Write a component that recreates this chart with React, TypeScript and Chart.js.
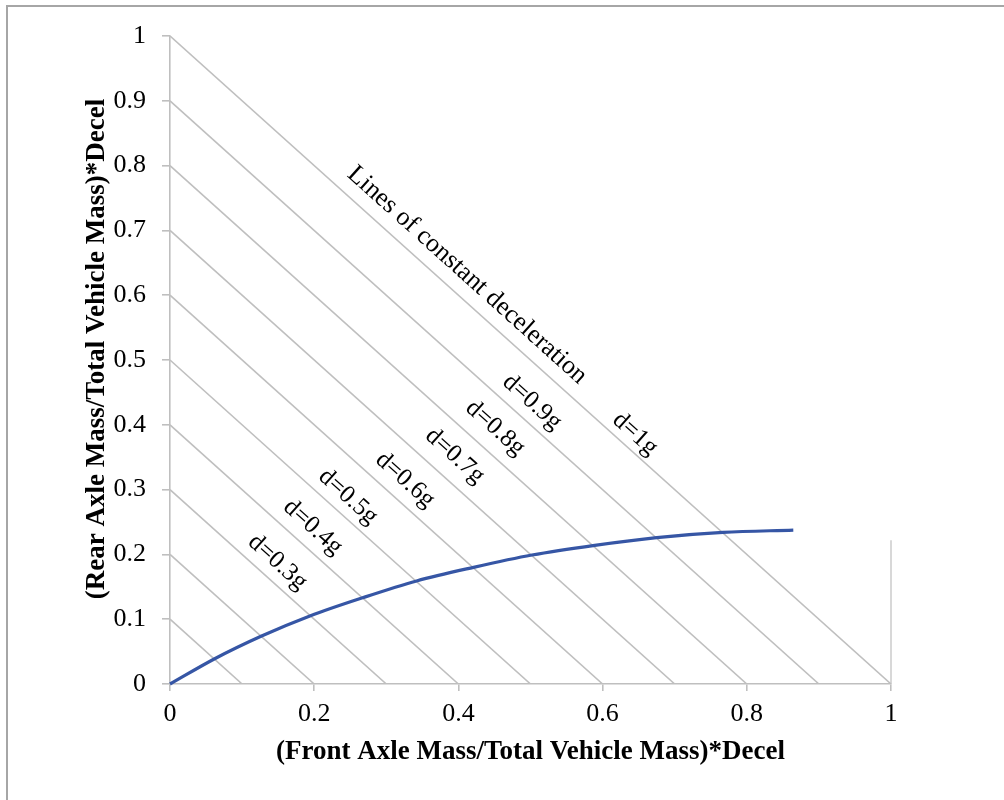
import React, { useEffect, useRef } from "react";
import { Chart, registerables } from "chart.js";

Chart.register(...registerables);

// Ideal braking curve
const curveX = [0, 0.062, 0.127, 0.194, 0.267, 0.342, 0.421, 0.502, 0.589, 0.675, 0.767, 0.8645];
const curveY = [0, 0.039, 0.074, 0.105, 0.133, 0.159, 0.18, 0.199, 0.214, 0.226, 0.234, 0.2375];

// Lines of constant deceleration x + y = d
const decels = [0.1, 0.2, 0.3, 0.4, 0.5, 0.6, 0.7, 0.8, 0.9, 1.0];

// Short vertical segment at x = 1
const edgeX = [1, 1];
const edgeY = [0.222, 0];

// Labels along the lines (text, anchor in data units)
const labelTexts = ["d=0.3g", "d=0.4g", "d=0.5g", "d=0.6g", "d=0.7g", "d=0.8g", "d=0.9g", "d=1g", "Lines of constant deceleration"];
const labelX = [0.149, 0.198, 0.247, 0.326, 0.395, 0.451, 0.502, 0.645, 0.412];
const labelY = [0.188, 0.242, 0.289, 0.315, 0.352, 0.395, 0.435, 0.386, 0.631];

const xTitle = "(Front Axle Mass/Total Vehicle Mass)*Decel";
const yTitle = "(Rear Axle Mass/Total Vehicle Mass)*Decel";

const FONT = "'Liberation Serif', 'Times New Roman', serif";
const GRAY = "#bfbfbf";

const textPlugin = {
  id: "textPlugin",
  afterDatasetsDraw(chart: any) {
    const { ctx, scales, chartArea } = chart;
    const xs = scales.x;
    const ys = scales.y;
    const ux = xs.getPixelForValue(1) - xs.getPixelForValue(0);
    const uy = ys.getPixelForValue(0) - ys.getPixelForValue(1);
    const angle = Math.atan2(uy, ux);
    ctx.save();
    ctx.fillStyle = "#000";
    ctx.textAlign = "center";
    ctx.textBaseline = "middle";
    for (let i = 0; i < labelTexts.length; i++) {
      const px = xs.getPixelForValue(labelX[i]);
      const py = ys.getPixelForValue(labelY[i]);
      ctx.font = i === labelTexts.length - 1 ? `26px ${FONT}` : `25px ${FONT}`;
      ctx.save();
      ctx.translate(px, py);
      ctx.rotate(angle);
      ctx.fillText(labelTexts[i], 0, 0);
      ctx.restore();
    }
    ctx.font = `bold 27px ${FONT}`;
    ctx.fillText(xTitle, (chartArea.left + chartArea.right) / 2, 752);
    ctx.save();
    ctx.translate(97, 349);
    ctx.rotate(-Math.PI / 2);
    ctx.fillText(yTitle, 0, 0);
    ctx.restore();
    ctx.restore();
  },
};

function fmt(v: number) {
  const s = Number(v).toFixed(1);
  return s.endsWith(".0") ? s.slice(0, -2) : s;
}

export default function App() {
  const ref = useRef<HTMLCanvasElement | null>(null);
  useEffect(() => {
    if (!ref.current) return;
    const datasets: any[] = [];
    datasets.push({
      data: curveX.map((x, i) => ({ x, y: curveY[i] })),
      borderColor: "#3656a5",
      borderWidth: 3.2,
      pointRadius: 0,
      showLine: true,
      cubicInterpolationMode: "monotone",
      clip: false,
    });
    decels.forEach((d) => {
      datasets.push({
        data: [
          { x: 0, y: d },
          { x: d, y: 0 },
        ],
        borderColor: GRAY,
        borderWidth: 1.6,
        pointRadius: 0,
        showLine: true,
      });
    });
    datasets.push({
      data: edgeX.map((x, i) => ({ x, y: edgeY[i] })),
      borderColor: "#cfcfcf",
      borderWidth: 1.6,
      pointRadius: 0,
      showLine: true,
      clip: false,
    });
    const chart = new Chart(ref.current, {
      type: "scatter",
      data: { datasets },
      plugins: [textPlugin],
      options: {
        animation: false,
        responsive: false,
        layout: { padding: { top: 36, right: 113, left: 0, bottom: 0 } },
        plugins: { legend: { display: false }, tooltip: { enabled: false } },
        scales: {
          x: {
            type: "linear",
            min: 0,
            max: 1,
            afterFit: (s: any) => {
              s.height = 116;
            },
            ticks: {
              stepSize: 0.2,
              padding: 8,
              color: "#000",
              font: { family: FONT, size: 26 },
              callback: (v: any) => fmt(v),
            },
            grid: { drawOnChartArea: false, drawTicks: true, tickLength: 7, color: GRAY, lineWidth: 1.6 },
            border: { display: true, color: GRAY, width: 1.6 },
          },
          y: {
            type: "linear",
            min: 0,
            max: 1,
            afterFit: (s: any) => {
              s.width = 170;
            },
            ticks: {
              stepSize: 0.1,
              padding: 16,
              color: "#000",
              font: { family: FONT, size: 26 },
              callback: (v: any) => fmt(v),
            },
            grid: { drawOnChartArea: false, drawTicks: true, tickLength: 8, color: GRAY, lineWidth: 1.6 },
            border: { display: true, color: GRAY, width: 1.6 },
          },
        },
      },
    });
    return () => chart.destroy();
  }, []);
  return (
    <div style={{ position: "fixed", left: 0, top: 0, width: 1004, height: 800, background: "#fff" }}>
      <canvas ref={ref} width={1004} height={800} style={{ position: "absolute", left: 0, top: 0, width: 1004, height: 800 }} />
      <div style={{ position: "absolute", left: 6, top: 5, right: 0, bottom: 0, borderTop: "2px solid #a6a6a6", borderLeft: "2px solid #a6a6a6", pointerEvents: "none" }} />
    </div>
  );
}
